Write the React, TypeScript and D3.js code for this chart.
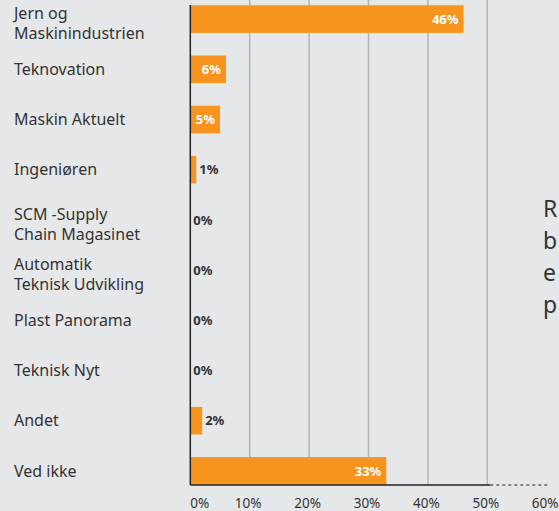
import React from "react";
import * as d3 from "d3";

const categories = [
  ["Jern og", "Maskinindustrien"],
  ["Teknovation"],
  ["Maskin Aktuelt"],
  ["Ingeniøren"],
  ["SCM -Supply", "Chain Magasinet"],
  ["Automatik", "Teknisk Udvikling"],
  ["Plast Panorama"],
  ["Teknisk Nyt"],
  ["Andet"],
  ["Ved ikke"],
];
const values = [46, 6, 5, 1, 0, 0, 0, 0, 2, 33];
const ticks = [0, 10, 20, 30, 40, 50, 60];
// only the first letters of the side paragraph are visible in the frame
const sideLetters = ["R", "b", "e", "p"];

const W = 559;
const H = 511;
const FONT = "'Noto Sans', 'Open Sans', sans-serif";
const ORANGE = "#f7941d";
const DARK = "#333333";

export default function App() {
  const x = d3.scaleLinear().domain([0, 60]).range([190.3, 546.7]);
  const y = d3
    .scaleBand<number>()
    .domain(d3.range(categories.length))
    .range([-6, 496])
    .paddingInner(0.45)
    .paddingOuter(0.225);
  const axisY = 485;

  return (
    <svg
      width={W}
      height={H}
      style={{ position: "absolute", left: 0, top: 0, background: "#e6e7e9" }}
      fontFamily={FONT}
    >
      <rect width={W} height={H} fill="#e6e7e9" />

      {/* gridlines */}
      {ticks.slice(1, 6).map((t) => (
        <line key={t} x1={x(t)} x2={x(t)} y1={0} y2={axisY} stroke="#b3b4b6" strokeWidth={1.5} />
      ))}

      {/* bars */}
      {values.map((v, i) => (
        <rect
          key={i}
          x={x(0)}
          y={y(i)}
          width={x(v) - x(0)}
          height={y.bandwidth()}
          fill={ORANGE}
        />
      ))}

      {/* value labels */}
      {values.map((v, i) => {
        const inside = v >= 5;
        const cy = (y(i) as number) + y.bandwidth() / 2;
        return (
          <text
            key={i}
            x={inside ? x(v) - 5 : x(v) + 3}
            y={cy}
            dy="0.36em"
            textAnchor={inside ? "end" : "start"}
            fontSize={13}
            fontWeight={700}
            fill={inside ? "#ffffff" : DARK}
          >
            {v}%
          </text>
        );
      })}

      {/* axes */}
      <line x1={x(0)} x2={x(0)} y1={5} y2={axisY} stroke="#222" strokeWidth={1.5} />
      <line x1={x(0)} x2={x(50) + 3} y1={axisY} y2={axisY} stroke="#222" strokeWidth={1.5} />
      <line
        x1={x(50) + 3}
        x2={x(60) + 1}
        y1={axisY}
        y2={axisY}
        stroke="#222"
        strokeWidth={1}
        strokeDasharray="3,3"
      />

      {/* tick labels */}
      {ticks.map((t) => (
        <text
          key={t}
          x={t === 0 ? x(0) : x(t) - 1.5}
          y={508}
          textAnchor={t === 0 ? "start" : "middle"}
          fontSize={13.5}
          fill={DARK}
        >
          {t}%
        </text>
      ))}

      {/* category labels */}
      {categories.map((lines, i) => {
        const cy = (y(i) as number) + y.bandwidth() / 2;
        const lh = 20;
        const start = lines.length > 1 ? cy - lh / 2 + 4 : cy;
        return (
          <text key={i} x={14} fontSize={16} fill={DARK}>
            {lines.map((l, j) => (
              <tspan key={j} x={14} y={start + j * lh} dy="0.36em">
                {l}
              </tspan>
            ))}
          </text>
        );
      })}

      {/* side paragraph letters */}
      {sideLetters.map((w, i) => (
        <text key={i} x={543} y={217 + i * 32} fontSize={23} fill={DARK}>
          {w}
        </text>
      ))}
    </svg>
  );
}
